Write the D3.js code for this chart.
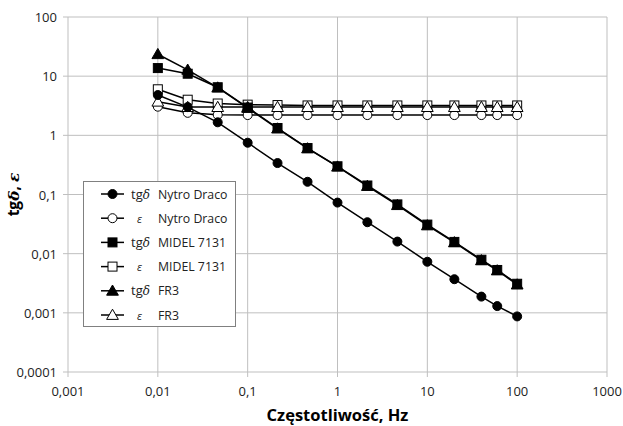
<!DOCTYPE html>
<html>
<head>
<meta charset="utf-8">
<script src="https://d3js.org/d3.v7.min.js"></script>
<style>
    body { margin: 0; background: #fff; }
    text { font-family: "Open Sans", sans-serif; }
</style>
</head>
<body>
<svg width="623" height="426"></svg>
<script>

// frequencies, Hz
var freq = [0.01, 0.0215, 0.0464, 0.1, 0.215, 0.464, 1, 2.15, 4.64, 10, 20, 40, 60, 100];

var tgNytro = [4.8, 3.0, 1.66, 0.75, 0.34, 0.164, 0.073, 0.034, 0.016, 0.0073, 0.0037, 0.00188, 0.0013, 0.00087];
var epsNytro = [3.05, 2.4, 2.22, 2.2, 2.2, 2.2, 2.2, 2.2, 2.2, 2.2, 2.2, 2.2, 2.2, 2.2];
var tgMidel = [13.7, 11, 6.5, 2.95, 1.33, 0.61, 0.3, 0.142, 0.068, 0.031, 0.0158, 0.0079, 0.0053, 0.0031];
var epsMidel = [6.0, 4.0, 3.45, 3.3, 3.25, 3.2, 3.2, 3.2, 3.2, 3.2, 3.2, 3.2, 3.2, 3.2];
var tgFr3 = [23.5, 12.8, 6.4, 2.9, 1.3, 0.6, 0.295, 0.139, 0.066, 0.030, 0.0155, 0.0077, 0.0052, 0.0030];
var epsFr3 = [3.7, 3.0, 3.0, 3.0, 3.0, 3.0, 3.0, 3.0, 3.0, 3.0, 3.0, 3.0, 3.0, 3.0];

var xTicks = [0.001, 0.01, 0.1, 1, 10, 100, 1000];
var yTicks = [0.0001, 0.001, 0.01, 0.1, 1, 10, 100];

var seriesNames = ["Nytro Draco", "Nytro Draco", "MIDEL 7131", "MIDEL 7131", "FR3", "FR3"];
var seriesKind = ["tg", "eps", "tg", "eps", "tg", "eps"];
var seriesShape = ["circle", "circle", "square", "square", "triangle", "triangle"];
var seriesFill = ["black", "white", "black", "white", "black", "white"];
var seriesData = [tgNytro, epsNytro, tgMidel, epsMidel, tgFr3, epsFr3];

var svg = d3.select("svg");
var pLeft = 68, pRight = 607, pTop = 17, pBottom = 372;

var x = d3.scaleLog().domain([0.001, 1000]).range([pLeft, pRight]);
var y = d3.scaleLog().domain([0.0001, 100]).range([pBottom, pTop]);

function fmt(v) { return String(v).replace(".", ","); }

// grid
svg.append("g").selectAll("line").data(xTicks).enter().append("line")
    .attr("x1", d => x(d)).attr("x2", d => x(d))
    .attr("y1", pTop).attr("y2", pBottom + 5)
    .attr("stroke", "#bfbfbf").attr("stroke-width", 1);
svg.append("g").selectAll("line").data(yTicks).enter().append("line")
    .attr("x1", pLeft - 5).attr("x2", pRight)
    .attr("y1", d => y(d)).attr("y2", d => y(d))
    .attr("stroke", "#bfbfbf").attr("stroke-width", 1);

// tick labels
svg.append("g").selectAll("text").data(xTicks).enter().append("text")
    .attr("x", d => x(d)).attr("y", 396)
    .attr("text-anchor", "middle").attr("font-size", 13).attr("fill", "#222")
    .text(d => fmt(d));
svg.append("g").selectAll("text").data(yTicks).enter().append("text")
    .attr("x", 57).attr("y", d => y(d) + 5)
    .attr("text-anchor", "end").attr("font-size", 13).attr("fill", "#222")
    .text(d => fmt(d));

// axis titles
svg.append("text")
    .attr("x", x(1)).attr("y", 421)
    .attr("text-anchor", "middle").attr("font-size", 16.5).attr("font-weight", "bold")
    .text("Częstotliwość, Hz");

var yl = svg.append("text")
    .attr("transform", "translate(19," + ((pTop + pBottom) / 2) + ") rotate(-90)")
    .attr("text-anchor", "middle").attr("font-size", 15.5).attr("font-weight", "bold");
yl.append("tspan").text("tg");
yl.append("tspan").attr("font-family", "DejaVu Serif").attr("font-style", "italic").text("δ");
yl.append("tspan").text(", ");
yl.append("tspan").attr("font-family", "DejaVu Serif").attr("font-style", "italic").text("ε");

function marker(g, shape, fill, cx, cy) {
    if (shape === "circle") {
        g.append("circle").attr("cx", cx).attr("cy", cy).attr("r", 4.5)
            .attr("fill", fill).attr("stroke", "black").attr("stroke-width", 1);
    } else if (shape === "square") {
        g.append("rect").attr("x", cx - 4.5).attr("y", cy - 4.5).attr("width", 9).attr("height", 9)
            .attr("fill", fill).attr("stroke", "black").attr("stroke-width", 1);
    } else {
        g.append("path").attr("d", d3.symbol(d3.symbolTriangle, 60)())
            .attr("transform", "translate(" + cx + "," + (cy + 1) + ")")
            .attr("fill", fill).attr("stroke", "black").attr("stroke-width", 1);
    }
}

var line = d3.line().x(d => x(d[0])).y(d => y(d[1]));

// series
var order = [1, 3, 5, 0, 2, 4];
order.forEach(function (i) {
    var pts = freq.map((f, k) => [f, seriesData[i][k]]);
    var g = svg.append("g");
    g.append("path").datum(pts).attr("d", line)
        .attr("fill", "none").attr("stroke", "black").attr("stroke-width", 1.5);
    pts.forEach(p => marker(g, seriesShape[i], seriesFill[i], x(p[0]), y(p[1])));
});

// legend
var lg = svg.append("g");
lg.append("rect").attr("x", 83.5).attr("y", 181.5).attr("width", 152).attr("height", 145)
    .attr("fill", "white").attr("stroke", "#808080").attr("stroke-width", 1);
seriesNames.forEach(function (name, i) {
    var cy = 194 + i * 24.2;
    lg.append("line").attr("x1", 101).attr("x2", 124).attr("y1", cy).attr("y2", cy)
        .attr("stroke", "black").attr("stroke-width", 1.5);
    marker(lg, seriesShape[i], seriesFill[i], 112.5, cy);
    if (seriesKind[i] === "tg") {
        var t = lg.append("text").attr("x", 131).attr("y", cy + 4.5).attr("font-size", 13).attr("fill", "#222");
        t.append("tspan").text("tg");
        t.append("tspan").attr("font-family", "DejaVu Serif").attr("font-style", "italic").attr("font-size", 12).text("δ");
    } else {
        lg.append("text").attr("x", 139.5).attr("y", cy + 4.5).attr("text-anchor", "middle")
            .attr("font-family", "DejaVu Serif").attr("font-style", "italic").attr("font-size", 11).attr("fill", "#222")
            .text("ε");
    }
    lg.append("text").attr("x", 158).attr("y", cy + 4.5).attr("font-size", 12.3).attr("fill", "#222").text(name);
});

</script>
</body>
</html>
